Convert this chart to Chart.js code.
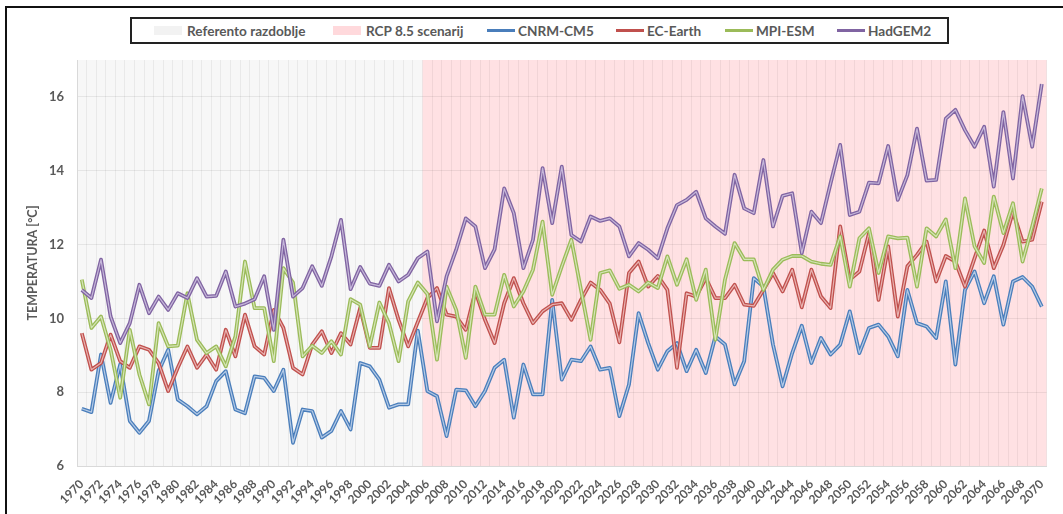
<!DOCTYPE html>
<html lang="hr">
<head>
<meta charset="UTF-8">
<title>Temperatura</title>
<script src="https://cdn.jsdelivr.net/npm/chart.js"></script>
<style>
  html, body { margin: 0; padding: 0; background: #fff; overflow: hidden; }
  #wrap { position: relative; width: 1063px; height: 514px; }
  #frame { position: absolute; left: 5px; top: 6px; width: 1200px; height: 700px;
           border-top: 2px solid #111; border-left: 2px solid #111; pointer-events: none; }
  #legend { position: absolute; left: 130px; top: 17px; width: 815px; height: 23px;
            border: 2px solid #222; background: #fff; font-family: Lato, sans-serif;
            font-weight: bold; font-size: 13.6px; color: #595959; }
  .item { position: absolute; top: 0; height: 23px; display: flex; align-items: center; white-space: nowrap; }
  .sw { display: inline-block; width: 28px; height: 9px; margin-right: 5px; }
  .ln { display: inline-block; width: 28px; height: 3px; margin-right: 3px; }
</style>
</head>
<body>
<div id="wrap">
  <canvas id="tempChart" width="1063" height="514"></canvas>
  <div id="frame"></div>
  <div id="legend"></div>
</div>
<script>
// years on the x axis
const years = [];
for (let y = 1970; y <= 2070; y++) years.push(String(y));
const refEnd = '2005'; // last year of the reference period

const yTicks = [6, 8, 10, 12, 14, 16];

const cnrm = [7.55, 7.46, 9.02, 7.71, 8.75, 7.22, 6.90, 7.22, 8.57, 9.15,
  7.80, 7.62, 7.40, 7.62, 8.30, 8.57, 7.53, 7.43, 8.43, 8.39,
  8.03, 8.61, 6.63, 7.53, 7.49, 6.77, 6.95, 7.49, 6.99, 8.79,
  8.70, 8.34, 7.58, 7.67, 7.67, 9.67, 8.03, 7.89, 6.81, 8.07,
  8.05, 7.62, 8.03, 8.66, 8.88, 7.31, 8.75, 7.94, 7.94, 10.50,
  8.34, 8.88, 8.84, 9.24, 8.61, 8.66, 7.35, 8.21, 10.14, 9.33,
  8.61, 9.11, 9.33, 8.57, 9.15, 8.52, 9.51, 9.29, 8.21, 8.84,
  11.09, 10.86, 9.29, 8.16, 9.06, 9.80, 8.79, 9.47, 9.02, 9.29,
  10.19, 9.06, 9.74, 9.83, 9.51, 8.97, 10.77, 9.87, 9.78, 9.47,
  11.00, 8.75, 10.77, 11.27, 10.41, 11.14, 9.83, 11.00, 11.12, 10.86,
  10.32];

const ecEarth = [9.60, 8.61, 8.79, 9.56, 8.84, 8.66, 9.24, 9.15, 8.79, 8.03,
  8.66, 9.24, 8.66, 9.02, 8.61, 9.69, 8.97, 10.10, 9.24, 9.02,
  10.23, 9.74, 8.66, 8.48, 9.29, 9.65, 9.06, 9.60, 9.29, 10.28,
  9.20, 9.20, 10.82, 9.96, 9.24, 9.90, 10.55, 10.82, 10.10, 10.05,
  9.69, 10.73, 9.96, 9.33, 10.41, 11.09, 10.41, 9.87, 10.19, 10.37,
  10.41, 9.96, 10.50, 10.97, 10.77, 10.40, 9.35, 11.23, 11.54, 10.86,
  11.15, 10.77, 8.66, 10.68, 10.59, 11.09, 10.55, 10.55, 10.91, 10.37,
  10.34, 10.77, 11.23, 10.73, 11.32, 10.30, 11.32, 10.59, 10.28, 12.49,
  11.05, 11.27, 12.31, 10.50, 11.95, 10.05, 11.41, 11.72, 12.08, 11.00,
  11.69, 11.54, 10.86, 11.63, 12.38, 11.36, 11.99, 12.89, 12.08, 12.13,
  13.16];

const mpiEsm = [11.05, 9.74, 10.05, 9.15, 7.85, 9.69, 8.48, 7.67, 9.87, 9.24,
  9.26, 10.68, 9.42, 9.06, 9.24, 8.70, 9.51, 11.54, 10.28, 10.28,
  8.84, 11.36, 10.97, 8.97, 9.26, 9.06, 9.38, 9.02, 10.52, 10.37,
  9.24, 10.43, 9.87, 8.84, 10.46, 10.97, 10.66, 8.88, 10.86, 10.23,
  8.93, 10.86, 10.10, 10.10, 11.18, 10.32, 10.73, 11.32, 12.62, 10.64,
  11.41, 12.13, 10.77, 9.42, 11.23, 11.30, 10.80, 10.91, 10.73, 10.97,
  10.82, 11.68, 10.91, 11.60, 10.50, 11.32, 9.42, 11.05, 12.04, 11.60,
  11.60, 10.77, 11.32, 11.59, 11.69, 11.69, 11.54, 11.48, 11.45, 12.22,
  10.86, 12.17, 12.44, 11.23, 12.22, 12.17, 12.19, 10.86, 12.44, 12.22,
  12.68, 11.36, 13.25, 11.95, 11.50, 13.30, 12.31, 13.12, 11.54, 12.49,
  13.52];

const hadGem = [10.77, 10.55, 11.59, 10.05, 9.33, 9.87, 10.91, 10.14, 10.59, 10.23,
  10.68, 10.55, 11.09, 10.59, 10.61, 11.27, 10.32, 10.40, 10.52, 11.14,
  9.69, 12.13, 10.59, 10.82, 11.41, 10.88, 11.68, 12.67, 10.79, 11.39,
  10.94, 10.88, 11.45, 11.00, 11.18, 11.63, 11.81, 9.92, 11.14, 11.86,
  12.71, 12.49, 11.36, 11.87, 13.52, 12.85, 11.36, 12.13, 14.07, 12.58,
  14.11, 12.26, 12.08, 12.76, 12.64, 12.71, 12.49, 11.68, 12.04, 11.86,
  11.63, 12.44, 13.07, 13.21, 13.43, 12.71, 12.49, 12.29, 13.89, 12.98,
  12.85, 14.29, 12.49, 13.32, 13.39, 11.77, 12.89, 12.58, 13.66, 14.70,
  12.80, 12.89, 13.68, 13.66, 14.67, 13.21, 13.88, 15.14, 13.73, 13.75,
  15.41, 15.65, 15.10, 14.65, 15.19, 13.57, 15.59, 13.79, 16.02, 14.65,
  16.35];

const seriesNames = ['CNRM-CM5', 'EC-Earth', 'MPI-ESM', 'HadGEM2'];
const seriesData = [cnrm, ecEarth, mpiEsm, hadGem];
const seriesColors = ['#4a7ebb', '#c0504d', '#9bbb59', '#8064a2'];
const seriesLight = ['#b4cae6', '#e8b3b1', '#d6e5b8', '#c6b8da'];

const refColor = '#f7f7f7';
const rcpColor = '#ffe1e3';
const textColor = '#595959';

// legend (html)
const legendItems = [
  { label: 'Referento razdoblje', kind: 'box', color: '#f2f2f2', left: 22 },
  { label: 'RCP 8.5 scenarij', kind: 'box', color: '#ffd9dc', left: 201 },
  { label: seriesNames[0], kind: 'line', color: seriesColors[0], left: 355 },
  { label: seriesNames[1], kind: 'line', color: seriesColors[1], left: 484 },
  { label: seriesNames[2], kind: 'line', color: seriesColors[2], left: 593 },
  { label: seriesNames[3], kind: 'line', color: seriesColors[3], left: 705 }
];
const legendEl = document.getElementById('legend');
legendItems.forEach(it => {
  const d = document.createElement('div');
  d.className = 'item';
  d.style.left = it.left + 'px';
  const s = document.createElement('span');
  s.className = it.kind === 'box' ? 'sw' : 'ln';
  s.style.background = it.color;
  d.appendChild(s);
  d.appendChild(document.createTextNode(it.label));
  legendEl.appendChild(d);
});

// shaded periods behind the plot
const periodBg = {
  id: 'periodBg',
  beforeDraw(chart) {
    const { ctx, chartArea: a, scales: { x } } = chart;
    ctx.save();
    ctx.fillStyle = '#fff';
    ctx.fillRect(0, 0, chart.width, chart.height);
    const i = years.indexOf(refEnd);
    const split = (x.getPixelForValue(i) + x.getPixelForValue(i + 1)) / 2;
    ctx.fillStyle = refColor;
    ctx.fillRect(a.left, a.top, split - a.left, a.bottom - a.top);
    ctx.fillStyle = rcpColor;
    ctx.fillRect(split, a.top, a.right - split, a.bottom - a.top);
    ctx.restore();
  }
};

// light centre stroke to get the double line look
const innerLine = {
  id: 'innerLine',
  afterDatasetDraw(chart, args) {
    const meta = args.meta;
    const ctx = chart.ctx;
    ctx.save();
    ctx.strokeStyle = seriesLight[args.index];
    ctx.lineWidth = 1.2;
    ctx.lineJoin = 'round';
    ctx.beginPath();
    meta.data.forEach((p, k) => { if (k === 0) ctx.moveTo(p.x, p.y); else ctx.lineTo(p.x, p.y); });
    ctx.stroke();
    ctx.restore();
  }
};

new Chart(document.getElementById('tempChart'), {
  type: 'line',
  data: {
    labels: years,
    datasets: seriesNames.map((name, k) => ({
      label: name,
      data: seriesData[k],
      borderColor: seriesColors[k],
      borderWidth: 3.8,
      pointRadius: 0,
      tension: 0,
      borderJoinStyle: 'round',
      order: 3 - k
    }))
  },
  options: {
    responsive: false,
    animation: false,
    devicePixelRatio: 1,
    layout: { padding: { top: 60, right: 8, left: 0, bottom: 0 } },
    plugins: { legend: { display: false }, tooltip: { enabled: false } },
    scales: {
      x: {
        offset: true,
        grid: { offset: true, color: 'rgba(0,0,0,0.055)', drawTicks: false },
        border: { color: '#d9d9d9' },
        ticks: {
          autoSkip: false, minRotation: 45, maxRotation: 45, padding: 11,
          color: textColor, font: { family: 'Lato', weight: 'bold', size: 12 },
          callback: (v, i) => (i % 2 === 0 ? years[i] : '')
        },
        afterFit: s => { s.height = 48; }
      },
      y: {
        min: 6, max: 17,
        grid: { color: 'rgba(0,0,0,0.07)', drawTicks: false },
        border: { color: '#d9d9d9' },
        ticks: {
          stepSize: 2, includeBounds: false, padding: 13,
          color: textColor, font: { family: 'Lato', weight: 'bold', size: 13 },
          callback: v => (yTicks.includes(v) ? v : '')
        },
        title: {
          display: true, text: 'TEMPERATURA [°C]', color: textColor,
          font: { family: 'Lato', weight: 'bold', size: 12.5 },
          padding: { top: 25, bottom: 0 }
        },
        afterFit: s => { s.width = 77; }
      }
    }
  },
  plugins: [periodBg, innerLine]
});
</script>
</body>
</html>
